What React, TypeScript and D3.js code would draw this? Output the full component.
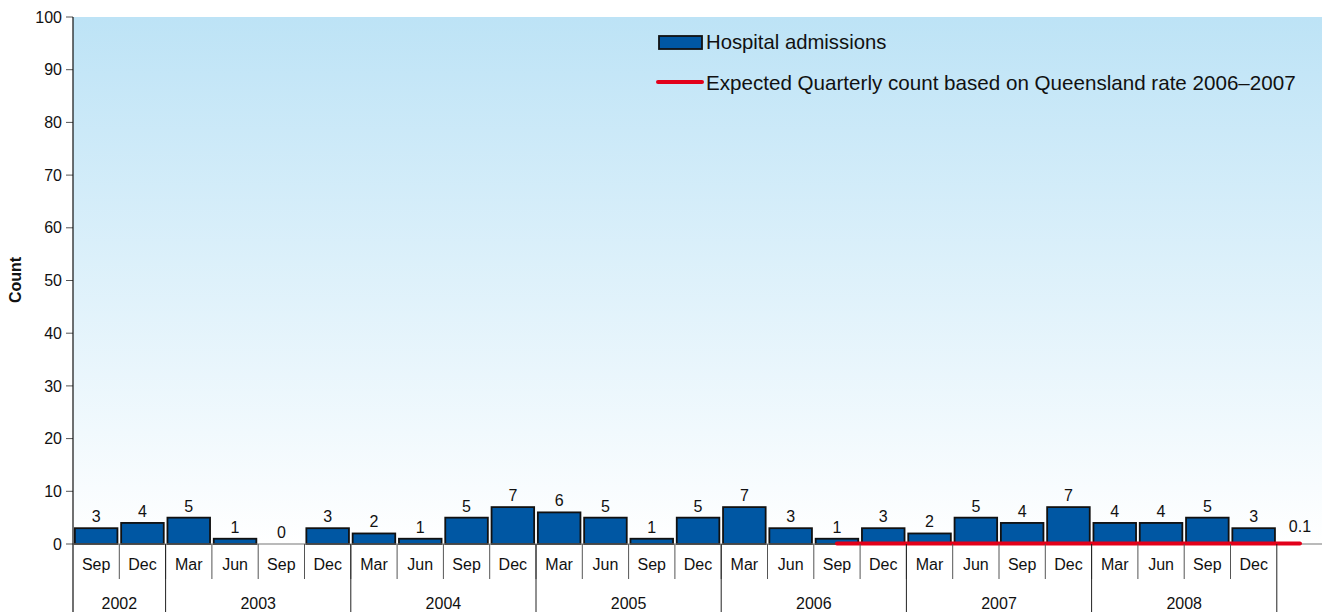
import * as d3 from "d3";

const years = ["2002", "2002", "2003", "2003", "2003", "2003", "2004", "2004", "2004", "2004", "2005", "2005", "2005", "2005", "2006", "2006", "2006", "2006", "2007", "2007", "2007", "2007", "2008", "2008", "2008", "2008"];
const quarters = ["Sep", "Dec", "Mar", "Jun", "Sep", "Dec", "Mar", "Jun", "Sep", "Dec", "Mar", "Jun", "Sep", "Dec", "Mar", "Jun", "Sep", "Dec", "Mar", "Jun", "Sep", "Dec", "Mar", "Jun", "Sep", "Dec"];
const admissions = [3, 4, 5, 1, 0, 3, 2, 1, 5, 7, 6, 5, 1, 5, 7, 3, 1, 3, 2, 5, 4, 7, 4, 4, 5, 3];
// expected line runs from Sep 2006 into one extra empty slot after Dec 2008
const expectedStart = 16;
const expected = [0.1, 0.1, 0.1, 0.1, 0.1, 0.1, 0.1, 0.1, 0.1, 0.1, 0.1];
const yTicks = [0, 10, 20, 30, 40, 50, 60, 70, 80, 90, 100];

const W = 1322;
const H = 612;
const LEFT = 73;
const SLOT = 46.3;
const TOP = 17;
const BOTTOM = 544;
const FONT = "'Liberation Sans', Arial, sans-serif";

const App = () => {
    const nSlots = quarters.length + 1;
    const x = d3
        .scaleBand<number>()
        .domain(d3.range(nSlots))
        .range([LEFT, LEFT + nSlots * SLOT])
        .paddingInner(0.08)
        .paddingOuter(0.04);
    const step = x.step();
    const slotLeft = (i: number) => LEFT + i * step;
    const y = d3.scaleLinear().domain([0, 100]).range([BOTTOM, TOP]);

    const line = d3
        .line<number>()
        .x((_, i) => x(expectedStart + i)! + x.bandwidth() / 2)
        .y((d) => y(d));

    // year groups
    const groups: { year: string; start: number; end: number }[] = [];
    years.forEach((yr, i) => {
        const g = groups[groups.length - 1];
        if (g && g.year === yr) g.end = i + 1;
        else groups.push({ year: yr, start: i, end: i + 1 });
    });

    const lastIdx = expectedStart + expected.length - 1;

    return (
        <svg width={W} height={H} style={{ position: "absolute", left: 0, top: 0, display: "block" }} fontFamily={FONT}>
            <defs>
                <linearGradient id="bg" x1="0" y1="0" x2="0" y2="1">
                    <stop offset="0" stopColor="#bde3f6" />
                    <stop offset="1" stopColor="#ffffff" />
                </linearGradient>
            </defs>
            <rect x={LEFT} y={TOP} width={W - LEFT} height={BOTTOM - TOP} fill="url(#bg)" />

            {/* y axis */}
            {yTicks.map((t) => (
                <g key={t}>
                    <line x1={LEFT - 7} x2={LEFT} y1={y(t)} y2={y(t)} stroke="#555" />
                    <text x={LEFT - 11} y={y(t)} dy="0.35em" textAnchor="end" fontSize={16} fill="#111">
                        {t}
                    </text>
                </g>
            ))}
            <text transform={`translate(21, 280) rotate(-90)`} textAnchor="middle" fontSize={16} fontWeight="bold" fill="#111">
                Count
            </text>

            {/* bars */}
            {admissions.map((v, i) => (
                <g key={i}>
                    <rect
                        x={x(i)}
                        y={y(v)}
                        width={x.bandwidth()}
                        height={BOTTOM - y(v)}
                        fill="#0057a3"
                        stroke="#111"
                        strokeWidth={v > 0 ? 1.8 : 0}
                    />
                    <text x={x(i)! + x.bandwidth() / 2} y={y(v) - 6} textAnchor="middle" fontSize={16} fill="#111">
                        {v}
                    </text>
                </g>
            ))}

            {/* baseline and axis */}
            <line x1={LEFT} x2={W} y1={BOTTOM} y2={BOTTOM} stroke="#777" strokeWidth={1.2} />

            {/* expected line */}
            <path d={line(expected) || undefined} fill="none" stroke="#e2001a" strokeWidth={4} strokeLinecap="round" />
            <text x={x(lastIdx)! + x.bandwidth() / 2} y={y(expected[expected.length - 1]) - 11} textAnchor="middle" fontSize={16} fill="#111">
                {expected[expected.length - 1]}
            </text>

            <line x1={LEFT} x2={LEFT} y1={TOP} y2={H} stroke="#111" strokeWidth={1.2} />

            {/* month labels */}
            {quarters.map((q, i) => (
                <g key={i}>
                    <text x={x(i)! + x.bandwidth() / 2} y={570} textAnchor="middle" fontSize={16} fill="#111">
                        {q}
                    </text>
                    {i > 0 && <line x1={slotLeft(i)} x2={slotLeft(i)} y1={BOTTOM} y2={579} stroke="#555" />}
                </g>
            ))}

            {/* year labels */}
            {groups.map((g) => (
                <g key={g.year}>
                    <text x={(slotLeft(g.start) + slotLeft(g.end)) / 2} y={609} textAnchor="middle" fontSize={16} fill="#111">
                        {g.year}
                    </text>
                    <line x1={slotLeft(g.end)} x2={slotLeft(g.end)} y1={BOTTOM} y2={H} stroke="#222" />
                </g>
            ))}

            {/* legend */}
            <rect x={659} y={36} width={43} height={13} fill="#0057a3" stroke="#111" strokeWidth={1.8} />
            <text x={706} y={49} fontSize={20.3} fill="#111">
                Hospital admissions
            </text>
            <line x1={658} x2={702} y1={82} y2={82} stroke="#e2001a" strokeWidth={4} strokeLinecap="round" />
            <text x={706} y={90} fontSize={20.6} fill="#111">
                Expected Quarterly count based on Queensland rate 2006–2007
            </text>
        </svg>
    );
};

export default App;
